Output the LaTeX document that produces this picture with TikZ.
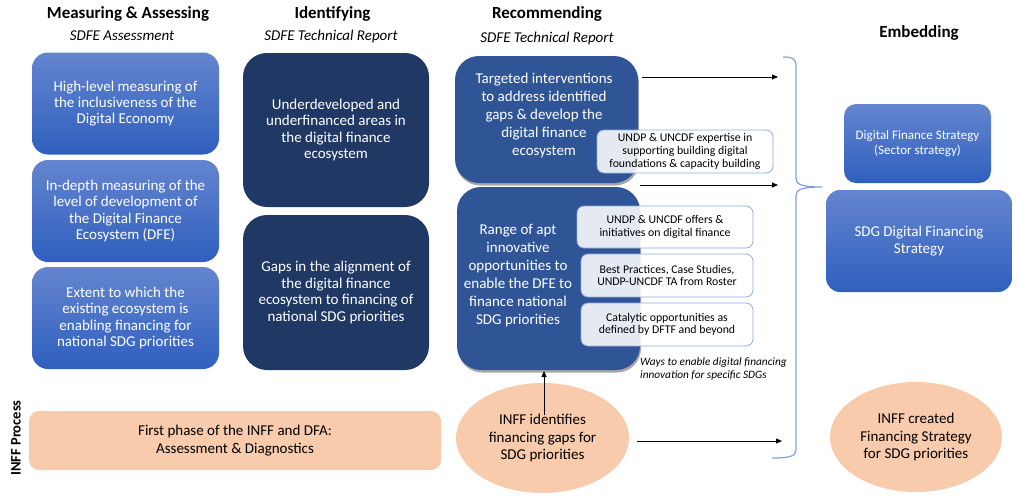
\documentclass[tikz,border=0pt]{standalone}
\usepackage{fontspec}
\setmainfont{Carlito}
\usetikzlibrary{arrows.meta,shadows,shapes.geometric}
\definecolor{measTop}{RGB}{100,133,207}
\definecolor{measBot}{RGB}{47,95,190}
\definecolor{identCol}{RGB}{32,56,100}
\definecolor{recCol}{RGB}{47,85,151}
\definecolor{peach}{RGB}{248,203,173}
\definecolor{subBorder}{RGB}{143,170,220}
\definecolor{braceCol}{RGB}{130,160,215}
\begin{document}
\begin{tikzpicture}[x=1pt,y=-1pt,
  title/.style={font=\bfseries\fontsize{17}{20}\selectfont, inner sep=0pt},
  subtitle/.style={font=\itshape\fontsize{15}{18}\selectfont, inner sep=0pt},
  measbox/.style={rounded corners=16pt, top color=measTop, bottom color=measBot, draw=none,
    text=white, align=center, font=\fontsize{15}{16.4}\selectfont, inner sep=0pt},
  identbox/.style={rounded corners=24pt, fill=identCol, draw=none, minimum width=186pt, minimum height=154pt,
    text=white, align=center, font=\fontsize{15}{16.4}\selectfont, inner sep=0pt},
  recbox/.style={rounded corners=24pt, fill=recCol, draw=none, inner sep=0pt,
    drop shadow={shadow xshift=1pt, shadow yshift=-2.5pt, opacity=0.35, fill=black}},
  rectext/.style={text=white, align=center, font=\fontsize{15}{18}\selectfont, inner sep=0pt},
  subbox/.style={rounded corners=7pt, fill=white, fill opacity=0.88, text opacity=1, draw=subBorder,
    line width=0.8pt, align=center, font=\fontsize{11.8}{12.6}\selectfont, inner sep=0pt},
  peachbox/.style={fill=peach, draw=none, align=center, font=\fontsize{15}{17.2}\selectfont, inner sep=0pt},
  arr/.style={-{Triangle[length=6pt,width=5pt]}, line width=0.8pt, black}
]
\useasboundingbox (0,0) rectangle (1019,496);

% titles
\node[title] (t1) at (128,14) {Measuring \& Assessing};
\node[subtitle] (s1) at (122,36) {SDFE Assessment};
\node[title] (t2) at (332.5,14) {Identifying};
\node[subtitle] (s2) at (331,36) {SDFE Technical Report};
\node[title] (t3) at (547,14) {Recommending};
\node[subtitle] (s3) at (547,38) {SDFE Technical Report};
\node[title] (t4) at (919,33) {Embedding};

% measuring column
\node[measbox, minimum width=187pt, minimum height=102pt] (m1) at (125.5,103.5)
  {High-level measuring of\\the inclusiveness of the\\Digital Economy};
\node[measbox, minimum width=187pt, minimum height=102pt] (m2) at (125.5,211)
  {In-depth measuring of the\\level of development of\\the Digital Finance\\Ecosystem (DFE)};
\node[measbox, minimum width=187pt, minimum height=102pt] (m3) at (125.5,318)
  {Extent to which the\\existing ecosystem is\\enabling financing for\\national SDG priorities};

% identifying column
\node[identbox] (i1) at (336,130)
  {Underdeveloped and\\underfinanced areas in\\the digital finance\\ecosystem};
\node[identbox, minimum height=155pt] (i2) at (336,292.5)
  {Gaps in the alignment of\\the digital finance\\ecosystem to financing of\\national SDG priorities};

% recommending column
\node[recbox, minimum width=183pt, minimum height=127pt] (r1) at (546.5,119.5) {};
\node[rectext] (r1t) at (544,115)
  {Targeted interventions\\to address identified\\gaps \& develop the\\digital finance\\ecosystem};
\node[recbox, minimum width=183pt, minimum height=183pt] (r2) at (548.5,278.5) {};
\node[rectext] (r2t) at (518,276)
  {Range of apt\\innovative\\opportunities to\\enable the DFE to\\finance national\\SDG priorities};

\node[subbox, minimum width=176pt, minimum height=43pt] (u1) at (685,151.5)
  {UNDP \& UNCDF expertise in\\supporting building digital\\foundations \& capacity building};
\node[subbox, minimum width=176pt, minimum height=42pt] (u2) at (665,227)
  {UNDP \& UNCDF offers \&\\initiatives on digital finance};
\node[subbox, minimum width=172pt, minimum height=43pt] (u3) at (667,275.5)
  {Best Practices, Case Studies,\\UNDP-UNCDF TA from Roster};
\node[subbox, minimum width=172pt, minimum height=43pt] (u4) at (667,324.5)
  {Catalytic opportunities as\\defined by DFTF and beyond};

\node[anchor=west, align=left, inner sep=0pt, font=\itshape\fontsize{11.3}{12.2}\selectfont] (note) at (640,369)
  {Ways to enable digital financing\\innovation for specific SDGs};

% embedding column
\node[measbox, rounded corners=12pt, minimum width=147pt, minimum height=79pt,
  font=\fontsize{13}{14.2}\selectfont] (e1) at (917.5,143.5)
  {Digital Finance Strategy\\(Sector strategy)};
\node[measbox, rounded corners=14pt, minimum width=186pt, minimum height=102pt,
  font=\fontsize{15}{16.7}\selectfont] (e2) at (919,241)
  {SDG Digital Financing\\Strategy};

% INFF process row
\node[rotate=90, inner sep=0pt, font=\bfseries\fontsize{14.5}{16}\selectfont] (inff) at (16,438) {INFF Process};
\node[peachbox, rounded corners=10pt, minimum width=412pt, minimum height=59pt] (p1) at (235,440.5)
  {First phase of the INFF and DFA:\\Assessment \& Diagnostics};
\node[peachbox, ellipse, minimum width=173pt, minimum height=110pt] (p2) at (542.5,438)
  {INFF identifies\\financing gaps for\\SDG priorities};
\node[peachbox, ellipse, minimum width=172pt, minimum height=110pt] (p3) at (916,437)
  {INFF created\\Financing Strategy\\for SDG priorities};

% brace
\draw[braceCol, line width=1.2pt] (783,57) .. controls (793,57) and (796,59) .. (796,66)
  -- (796,178) .. controls (796,184) and (800,187) .. (822,187)
  .. controls (800,187) and (796,190) .. (796,196)
  -- (796,450) .. controls (796,456) and (790,458) .. (772,458);

% connectors
\coordinate (a1s) at (642,77);
\coordinate (a1e) at (778,77);
\coordinate (a2s) at (640,185);
\coordinate (a2e) at (778,185);
\coordinate (a3s) at (637,441);
\coordinate (a3e) at (782,441);
\coordinate (a4s) at (544,415);
\coordinate (a4e) at (544,371);
\draw[arr] (a1s) -- (a1e);
\draw[arr] (a2s) -- (a2e);
\draw[arr] (a3s) -- (a3e);
\draw[arr] (a4s) -- (a4e);
\end{tikzpicture}
\end{document}
